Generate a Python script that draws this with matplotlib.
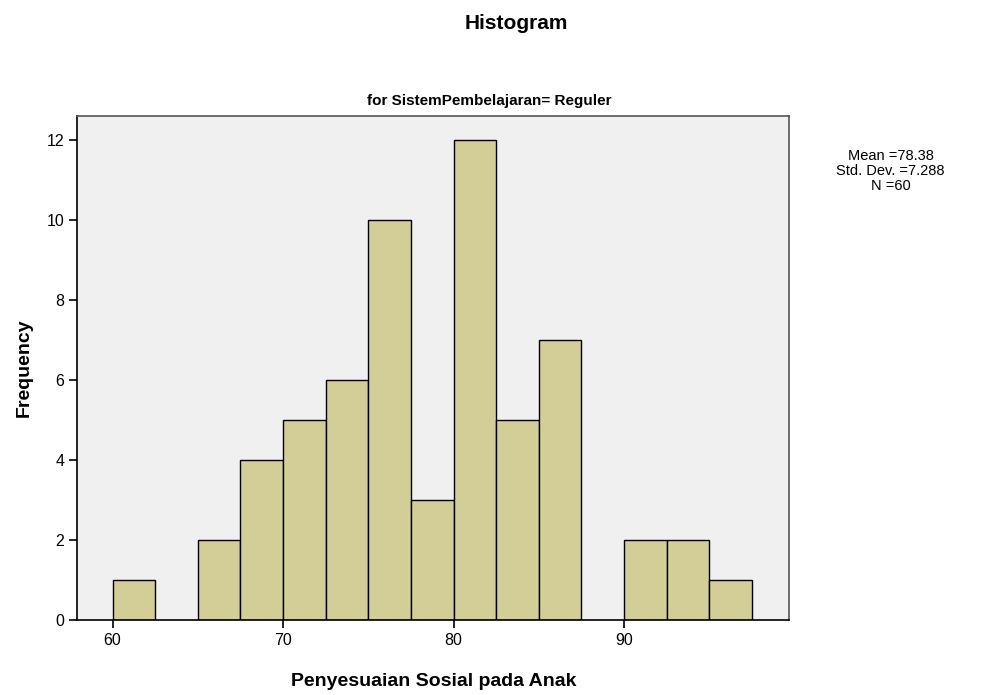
import numpy as np
import matplotlib.pyplot as plt

plt.rcParams['font.family'] = ['Liberation Sans', 'DejaVu Sans']

# Histogram bins (left edges, width 2.5) and counts
bin_left = [60, 62.5, 65, 67.5, 70, 72.5, 75, 77.5, 80, 82.5, 85, 87.5, 90, 92.5, 95]
counts = [1, 0, 2, 4, 5, 6, 10, 3, 12, 5, 7, 0, 2, 2, 1]
bin_width = 2.5
x_ticks = [60, 70, 80, 90]
y_ticks = [0, 2, 4, 6, 8, 10, 12]
stats = ['Mean =78.38', 'Std. Dev. =7.288', 'N =60']

fig = plt.figure(figsize=(9.83, 6.95), dpi=100)
ax = fig.add_axes([0.0788, 0.108, 0.7239, 0.725])
ax.set_facecolor('#f0f0f0')

left = np.array(bin_left)
h = np.array(counts)
mask = h > 0
ax.bar(left[mask], h[mask], width=bin_width, align='edge',
       color='#d3ce98', edgecolor='black', linewidth=1.0)

ax.set_xlim(57.94, 99.68)
ax.set_ylim(0, 12.6)
ax.set_xticks(x_ticks)
ax.set_yticks(y_ticks)
ax.tick_params(axis='both', direction='out', length=6, width=1.2,
               labelsize=11.5, colors='black')
for s in ax.spines.values():
    s.set_color('#555555')
    s.set_linewidth(1.2)
ax.spines['left'].set_color('black')
ax.spines['bottom'].set_color('black')

ax.set_xlabel('Penyesuaian Sosial pada Anak', fontsize=14, fontweight='bold', labelpad=18)
ax.set_ylabel('Frequency', fontsize=14, fontweight='bold', labelpad=10)

fig.text(0.525, 0.966, 'Histogram', ha='center', va='center',
         fontsize=15, fontweight='bold')
fig.text(0.498, 0.855, 'for SistemPembelajaran= Reguler', ha='center', va='center',
         fontsize=11, fontweight='bold')
fig.text(0.906, 0.754, '\n'.join(stats), ha='center', va='center',
         fontsize=10.5, linespacing=1.05)

fig.savefig('out.png', dpi=100)
